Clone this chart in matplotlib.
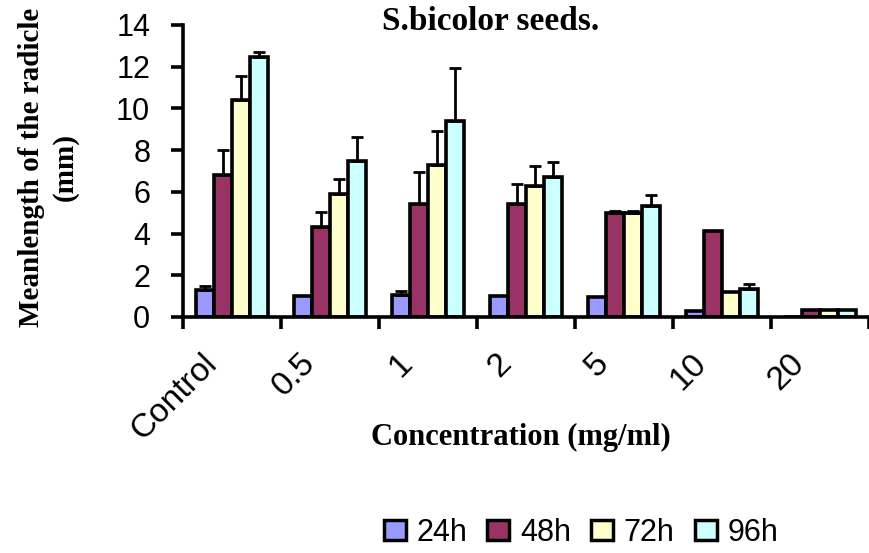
import numpy as np
import matplotlib
matplotlib.use('Agg')
import matplotlib.pyplot as plt
from matplotlib.patches import Patch
from matplotlib.transforms import ScaledTranslation

categories = ['Control', '0.5', '1', '2', '5', '10', '20']
series = ['24h', '48h', '72h', '96h']
v24 = [1.3, 1.0, 1.05, 1.0, 0.95, 0.28, 0.0]
v48 = [6.8, 4.3, 5.4, 5.4, 5.0, 4.1, 0.35]
v72 = [10.4, 5.9, 7.3, 6.3, 5.0, 1.2, 0.35]
v96 = [12.45, 7.5, 9.4, 6.7, 5.3, 1.35, 0.35]
e24 = [0.18, 0, 0.2, 0, 0, 0, 0]
e48 = [1.2, 0.75, 1.55, 1.0, 0.1, 0, 0]
e72 = [1.15, 0.7, 1.6, 0.95, 0.1, 0, 0]
e96 = [0.25, 1.15, 2.55, 0.75, 0.55, 0.25, 0]
colors = ['#9999FF', '#993366', '#FFFFCC', '#CCFFFF']
yticks = [0, 2, 4, 6, 8, 10, 12, 14]

title = 'S.bicolor seeds.'
xlabel = 'Concentration (mg/ml)'
ylabel = 'Meanlength of the radicle\n(mm)'

values = [v24, v48, v72, v96]
errors = [e24, e48, e72, e96]

SANS = 'Liberation Sans'
SERIF = 'Liberation Serif'

fig = plt.figure(figsize=(8.69, 5.53), dpi=100)
ax = fig.add_axes([0.2106, 0.4268, 0.7894, 0.528])

x = np.arange(len(categories))
w = 0.1835
for i, (vals, errs, c, name) in enumerate(zip(values, errors, colors, series)):
    pos = x + (i - 1.5) * w
    ax.bar(pos, vals, width=w, color=c, edgecolor='black', linewidth=2.6,
           zorder=2, label=name)
    errs = np.array(errs)
    vals = np.array(vals)
    m = errs > 0
    ax.errorbar(pos[m], vals[m], yerr=[np.zeros(m.sum()), errs[m]], fmt='none',
                ecolor='black', elinewidth=2.0, capsize=4.3, capthick=2.0, zorder=3)

ax.set_xlim(-0.5, 6.415)
ax.set_ylim(0, 14)
ax.set_yticks(yticks)
ax.set_yticklabels([str(t) for t in yticks], fontsize=22, family=SANS)

for s in ['top', 'right']:
    ax.spines[s].set_visible(False)
for s in ['left', 'bottom']:
    ax.spines[s].set_linewidth(2.6)

ax.set_xticks(np.arange(-0.5, 7.0, 1.0))
ax.set_xticklabels([''] * 8)
ax.set_xticks(x, minor=True)
ax.set_xticklabels(categories, minor=True, rotation=45, ha='right', va='top',
                   rotation_mode='anchor', fontsize=24, family=SANS)
ax.tick_params(axis='x', which='major', direction='out', length=8.6, width=2.6)
ax.tick_params(axis='x', which='minor', length=0, pad=22)
ax.tick_params(axis='y', direction='out', length=8.6, width=2.6, pad=15)
for lab in ax.get_xticklabels(minor=True):
    lab.set_transform(lab.get_transform() + ScaledTranslation(-0.31, 0, fig.dpi_scale_trans))

fig.text(491 / 869, 1 - 30 / 553, title, ha='center', va='baseline',
         fontsize=24, fontweight='bold', family=SERIF)
fig.text(521 / 869, 1 - 445 / 553, xlabel, ha='center', va='baseline',
         fontsize=22, fontweight='bold', family=SERIF)
fig.text(48 / 869, 1 - 167 / 553, ylabel, ha='center', va='center', rotation=90,
         fontsize=21, fontweight='bold', family=SERIF, linespacing=1.3,
         multialignment='center')

handles = [Patch(facecolor=c, edgecolor='black', linewidth=2.5) for c in colors]
fig.legend(handles, series, loc='center', bbox_to_anchor=(581 / 869, 1 - 533 / 553),
           ncol=4, frameon=False, prop={'family': SANS, 'size': 22},
           handlelength=0.72, handleheight=0.65, handletextpad=0.35, columnspacing=0.66)

fig.savefig('out.png', dpi=100)
